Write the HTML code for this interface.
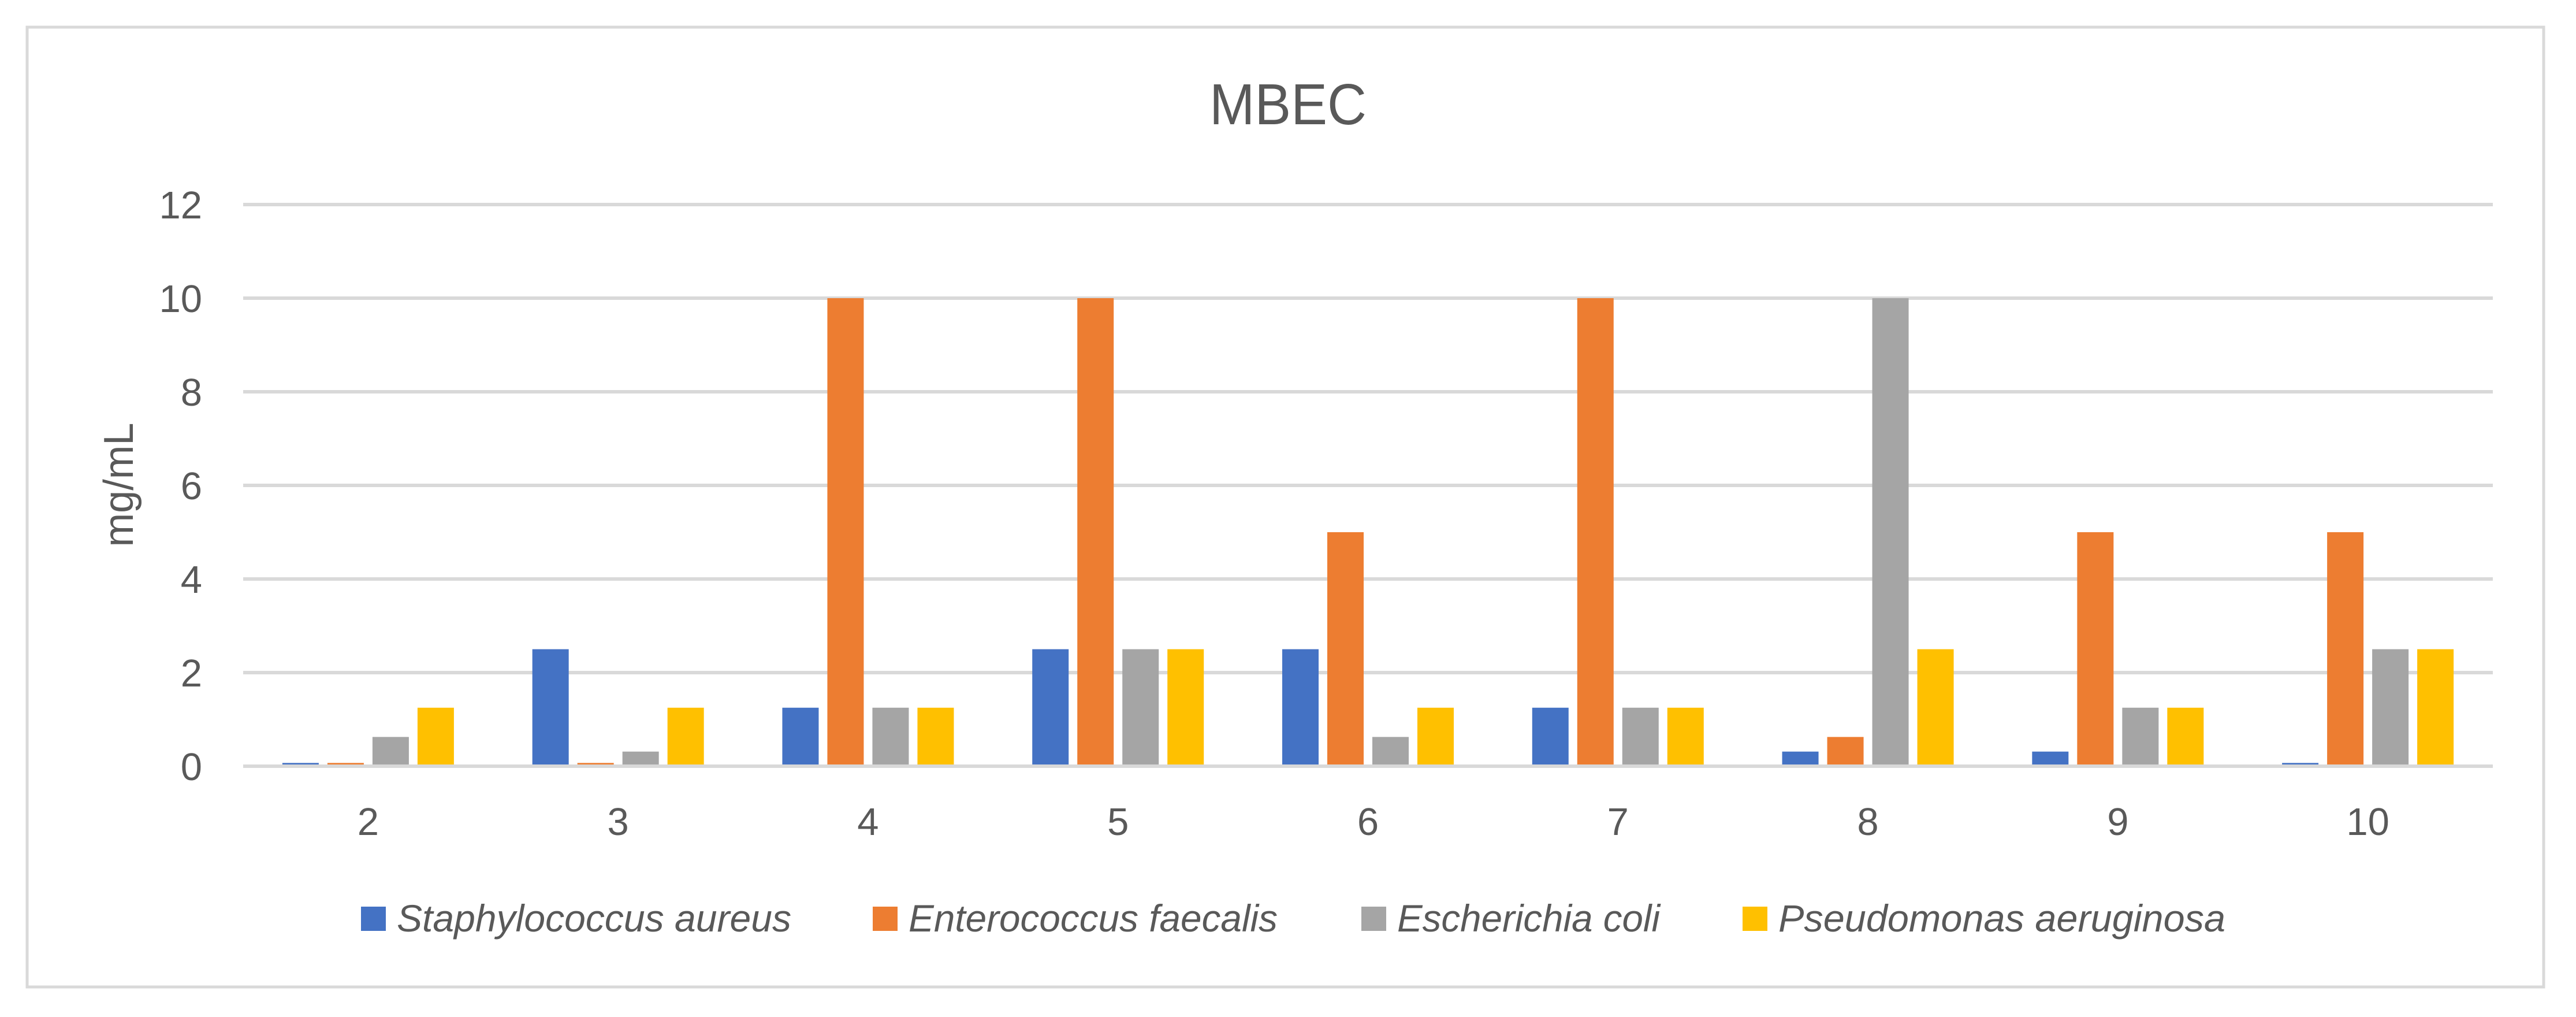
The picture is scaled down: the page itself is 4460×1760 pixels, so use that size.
<!DOCTYPE html>
<html><head><meta charset="utf-8"><style>
html,body{margin:0;padding:0;background:#fff;}
svg{display:block;}
</style></head><body>
<svg id="chart" width="4460" height="1760" xmlns="http://www.w3.org/2000/svg" font-family="'Liberation Sans', sans-serif">
<rect x="0" y="0" width="4460" height="1760" fill="#fff"/>
<rect x="47" y="47" width="4357" height="1661" fill="none" stroke="#d9d9d9" stroke-width="5"/>
<text x="2230" y="215" text-anchor="middle" font-size="100" fill="#595959" textLength="272" lengthAdjust="spacingAndGlyphs">MBEC</text>
<text transform="translate(230,839) rotate(-90)" text-anchor="middle" font-size="72" fill="#595959" textLength="215" lengthAdjust="spacingAndGlyphs">mg/mL</text>
<g id="grid"></g><g id="yticks"></g><g id="bars"></g><g id="xticks"></g><g id="legend"></g>
</svg>
<script>
const categories = ["2","3","4","5","6","7","8","9","10"];
const seriesNames = ["Staphylococcus aureus","Enterococcus faecalis","Escherichia coli","Pseudomonas aeruginosa"];
const staphAureus = [0.07,2.5,1.25,2.5,2.5,1.25,0.3125,0.3125,0.07];
const entFaecalis = [0.07,0.07,10,10,5,10,0.625,5,5];
const eColi = [0.625,0.3125,1.25,2.5,0.625,1.25,10,1.25,2.5];
const psAeruginosa = [1.25,1.25,1.25,2.5,1.25,1.25,2.5,1.25,2.5];
const yTicks = [0,2,4,6,8,10,12];

const series = [staphAureus, entFaecalis, eColi, psAeruginosa];
const colors = ["#4472c4","#ed7d31","#a5a5a5","#ffc000"];
const NS = "http://www.w3.org/2000/svg";
const plotL = 421, plotR = 4316, y0 = 1326, yTop = 354, yMax = 12;
const catW = (plotR - plotL) / categories.length;
function yScale(v){ return y0 - (y0 - yTop) * v / yMax; }
function xCat(i){ return plotL + i * catW; }
function mk(tag, attrs, parent){ const e=document.createElementNS(NS,tag); for(const k in attrs) e.setAttribute(k,attrs[k]); parent.appendChild(e); return e; }

const grid = document.getElementById('grid'), yt = document.getElementById('yticks');
yTicks.forEach(t=>{
  const l = mk('rect',{x:plotL,y:yScale(t)-3,width:plotR-plotL,height:6,fill:'#d9d9d9'},grid);
  
  
  const tx = mk('text',{x:350,y:yScale(t)+24,'text-anchor':'end','font-size':67,fill:'#595959'},yt);
  tx.textContent = t;
  
  
});
const bars = document.getElementById('bars'), xt = document.getElementById('xticks');
const bw = 63, pitch = 78, off = (catW - (3*pitch + bw)) / 2;
categories.forEach((c,i)=>{
  series.forEach((s,j)=>{
    const top = yScale(s[i]);
    const r = mk('rect',{x:xCat(i)+off+j*pitch,y:top,width:bw,height:(y0-3)-top,fill:colors[j]},bars);
    
    
  });
  const tx = mk('text',{x:xCat(i)+catW/2,y:1445,'text-anchor':'middle','font-size':67,fill:'#595959'},xt);
  tx.textContent = c;
  
  
});
const lg = document.getElementById('legend');
const swX = [625,1511,2357,3017], txW = [683,639,455,774];
seriesNames.forEach((n,j)=>{
  const sw = mk('rect',{x:swX[j],y:1569,width:43,height:42,fill:colors[j]},lg);
  
  
  const tx = mk('text',{x:swX[j]+62,y:1612,'font-size':66,'font-style':'italic',fill:'#595959',textLength:txW[j],lengthAdjust:'spacingAndGlyphs'},lg);
  tx.textContent = n;
  
  
});
</script>
</body></html>
